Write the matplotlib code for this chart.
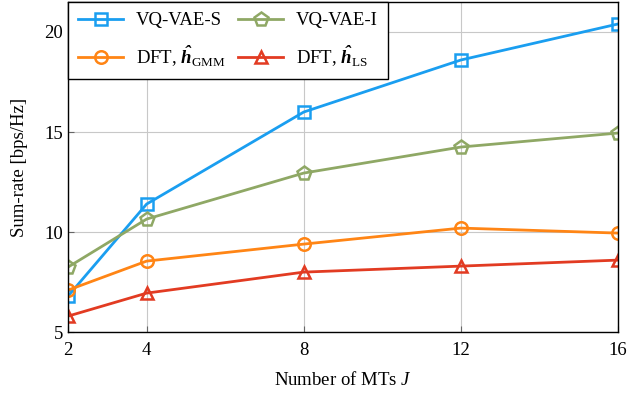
import matplotlib
matplotlib.use("Agg")
import matplotlib.pyplot as plt

plt.rcParams['font.family'] = ['Liberation Serif', 'DejaVu Serif']
plt.rcParams['mathtext.fontset'] = 'custom'
plt.rcParams['mathtext.rm'] = 'Liberation Serif'
plt.rcParams['mathtext.it'] = 'Liberation Serif:italic'
plt.rcParams['mathtext.bf'] = 'Liberation Serif:bold:italic'

# data
mts = [2, 4, 8, 12, 16]
vqvae_s = [6.8, 11.4, 16.0, 18.6, 20.4]
vqvae_i = [8.25, 10.65, 12.95, 14.25, 14.95]
dft_gmm = [7.1, 8.55, 9.4, 10.2, 9.95]
dft_ls = [5.8, 6.95, 8.0, 8.3, 8.6]

fig, ax = plt.subplots(figsize=(6.3, 3.94), dpi=100)

lw = 2.0
h1, = ax.plot(mts, vqvae_s, color='#1a9ef0', marker='s', ms=9, mfc='none', mew=1.8, lw=lw, label='VQ-VAE-S')
h2, = ax.plot(mts, vqvae_i, color='#8fa865', marker='p', ms=10, mfc='none', mew=1.8, lw=lw, label='VQ-VAE-I')
h3, = ax.plot(mts, dft_gmm, color='#ff8515', marker='o', ms=9, mfc='none', mew=1.8, lw=lw,
              label=r'DFT, $\mathbf{\hat{h}}_{\mathrm{GMM}}$')
h4, = ax.plot(mts, dft_ls, color='#e23b22', marker='^', ms=9, mfc='none', mew=1.8, lw=lw,
              label=r'DFT, $\mathbf{\hat{h}}_{\mathrm{LS}}$')

ax.set_xlim(2, 16)
ax.set_ylim(5, 21.5)
ax.set_xticks(mts)
ax.set_yticks([5, 10, 15, 20])
ax.grid(True, color='#c8c8c8', lw=0.8)
ax.tick_params(direction='in', labelsize=13.5, length=4, color='#666666')
ax.tick_params(axis='x', pad=7)
for s in ax.spines.values():
    s.set_linewidth(1.0)

ax.set_xlabel('Number of MTs $J$', fontsize=13.5, labelpad=9)
ax.set_ylabel('Sum-rate [bps/Hz]', fontsize=13.5, labelpad=12)

# row-wise legend order
leg = ax.legend([h1, h3, h2, h4], [h.get_label() for h in (h1, h3, h2, h4)],
                loc='upper left', ncol=2, fontsize=13.5, fancybox=False, framealpha=1,
                edgecolor='black', borderaxespad=0.0, handlelength=2.4, columnspacing=0.7,
                handletextpad=0.65, borderpad=0.55, labelspacing=0.75)
leg.get_frame().set_linewidth(1.0)

fig.subplots_adjust(left=0.108, right=0.981, top=0.995, bottom=0.157)
fig.savefig('out.png', dpi=100)
